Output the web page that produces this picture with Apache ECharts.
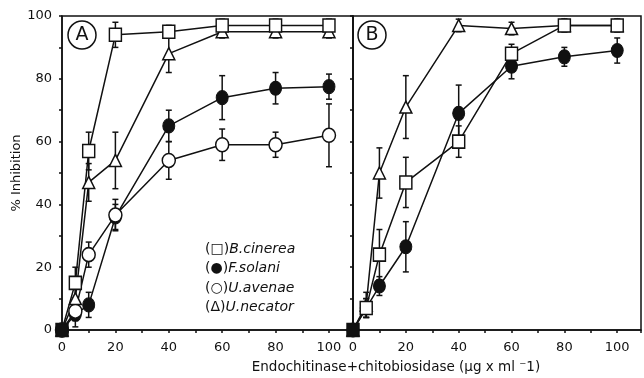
<!DOCTYPE html>
<html>
<head>
<meta charset="utf-8">
<script src="https://cdn.jsdelivr.net/npm/echarts@6/dist/echarts.min.js"></script>
<style>
  html, body { margin: 0; padding: 0; background: #fff; }
  #chart { width: 644px; height: 378px; }
</style>
</head>
<body>
<div id="chart"></div>
<script>
// doses (ug/ml)
const doses = [0, 5, 10, 20, 40, 60, 80, 100]
const xTicks = [0, 20, 40, 60, 80, 100]

// panel A
const cinereaA = [0, 15, 57, 94, 95, 97, 97, 97]
const solaniA = [0, 5, 8, 36, 65, 74, 77, 77.5]
const avenaeA = [0, 6, 24, 36.6, 54, 59, 59, 62]
const necatorA = [0, 10, 47, 54, 88, 95, 95, 95]
// +/- error
const cinereaErrA = [0, 5, 6, 4, 2, 2, 2, 2]
const solaniErrA = [0, 4, 4, 4, 5, 7, 5, 4]
const avenaeErrA = [0, 3, 4, 5, 6, 5, 4, 10]
const necatorErrA = [0, 5, 6, 9, 6, 2, 2, 2]

// panel B
const cinereaB = [0, 7, 24, 47, 60, 88, 97, 97]
const solaniB = [0, 7, 14, 26.5, 69, 84, 87, 89]
const necatorB = [0, 8, 50, 71, 97, 96, 97, 97]
const cinereaErrB = [0, 3, 8, 8, 5, 3, 2, 2]
const solaniErrB = [0, 3, 3, 8, 9, 4, 3, 4]
const necatorErrB = [0, 4, 8, 10, 2, 2, 2, 2]

const font = 'DejaVu Sans'
const ink = '#111'

// points at the origin overlap into one dark blob in the original
const pairs = (vals) => doses.map((d, i) => d === 0
  ? { value: [d, vals[i]], itemStyle: { color: ink } }
  : [d, vals[i]])
const errPairs = (vals, errs) => doses.map((d, i) => [d, vals[i], errs[i]])

const symbols = {
  cinerea: { symbol: 'rect', symbolSize: [12, 13], itemStyle: { color: '#fff', borderColor: ink, borderWidth: 1.5 } },
  solani: { symbol: 'circle', symbolSize: [12, 14], itemStyle: { color: ink, borderColor: ink, borderWidth: 1 } },
  avenae: { symbol: 'circle', symbolSize: [13, 14], itemStyle: { color: '#fff', borderColor: ink, borderWidth: 1.5 } },
  necator: { symbol: 'triangle', symbolSize: 12, itemStyle: { color: '#fff', borderColor: ink, borderWidth: 1.5 } }
}

function lineSeries(name, vals, idx, kind) {
  return Object.assign({
    name: name,
    type: 'line',
    xAxisIndex: idx,
    yAxisIndex: idx,
    data: pairs(vals),
    showAllSymbol: true,
    lineStyle: { color: ink, width: 1.5 },
    z: 3,
    animation: false
  }, symbols[kind])
}

function errSeries(vals, errs, idx) {
  return {
    type: 'custom',
    xAxisIndex: idx,
    yAxisIndex: idx,
    data: errPairs(vals, errs),
    z: 2,
    animation: false,
    renderItem: (params, api) => {
      const x = api.value(0)
      const y = api.value(1)
      const e = api.value(2)
      if (!e) return
      const hi = api.coord([x, y + e])
      const lo = api.coord([x, y - e])
      const st = { stroke: ink, lineWidth: 1.5 }
      return {
        type: 'group',
        children: [
          { type: 'line', shape: { x1: hi[0], y1: hi[1], x2: lo[0], y2: lo[1] }, style: st },
          { type: 'line', shape: { x1: hi[0] - 3, y1: hi[1], x2: hi[0] + 3, y2: hi[1] }, style: st },
          { type: 'line', shape: { x1: lo[0] - 3, y1: lo[1], x2: lo[0] + 3, y2: lo[1] }, style: st }
        ]
      }
    }
  }
}

function xAxis(idx) {
  return {
    type: 'value',
    gridIndex: idx,
    min: 0,
    max: 109,
    interval: 10,
    axisLine: { lineStyle: { color: ink, width: 1.5 } },
    axisTick: { length: 3, lineStyle: { color: ink, width: 1.5 } },
    splitLine: { show: false },
    axisLabel: {
      color: ink,
      fontFamily: font,
      fontSize: 13,
      margin: 11,
      formatter: v => xTicks.indexOf(v) >= 0 ? String(v) : ''
    }
  }
}

function yAxis(idx, labels) {
  return {
    type: 'value',
    gridIndex: idx,
    min: 0,
    max: 100,
    interval: 10,
    name: labels ? '% Inhibition' : '',
    nameLocation: 'middle',
    nameGap: 38,
    nameTextStyle: { color: ink, fontFamily: font, fontSize: 13 },
    axisLine: { lineStyle: { color: ink, width: 1.5 } },
    axisTick: { length: 3, lineStyle: { color: ink, width: 1.5 } },
    splitLine: { show: false },
    axisLabel: {
      show: labels,
      color: ink,
      fontFamily: font,
      fontSize: 13,
      margin: 10,
      formatter: v => v % 20 === 0 ? String(v) : ''
    }
  }
}

const chart = echarts.init(document.getElementById('chart'), null, { renderer: 'canvas' })

const legendRows = [
  ['□', 'B.cinerea'],
  ['●', 'F.solani'],
  ['○', 'U.avenae'],
  ['Δ', 'U.necator']
]

const graphics = legendRows.map((r, i) => ({
  type: 'text',
  left: 205,
  top: 242 + i * 19.5,
  style: {
    text: '{p|(' + r[0] + ')}{s|' + r[1] + '}',
    rich: {
      p: { fontFamily: font, fontSize: 14, fill: ink },
      s: { fontFamily: font, fontSize: 14, fontStyle: 'italic', fill: ink }
    }
  }
}))

graphics.push(
  { type: 'circle', shape: { cx: 82, cy: 35, r: 14 }, style: { fill: 'none', stroke: ink, lineWidth: 1.5 } },
  { type: 'text', x: 82, y: 35, style: { text: 'A', fontFamily: font, fontSize: 19, fill: ink, align: 'center', verticalAlign: 'middle' } },
  { type: 'circle', shape: { cx: 372, cy: 35, r: 14 }, style: { fill: 'none', stroke: ink, lineWidth: 1.5 } },
  { type: 'text', x: 372, y: 35, style: { text: 'B', fontFamily: font, fontSize: 19, fill: ink, align: 'center', verticalAlign: 'middle' } },
  { type: 'text', x: 396, y: 367, style: { text: 'Endochitinase+chitobiosidase (µg x ml ⁻1)', fontFamily: font, fontSize: 13.5, fill: ink, align: 'center', verticalAlign: 'middle' } }
)

chart.setOption({
  backgroundColor: '#fff',
  animation: false,
  grid: [
    { left: 62, top: 16, width: 291, height: 314, show: true, borderColor: ink, borderWidth: 1.5, backgroundColor: 'transparent' },
    { left: 353, top: 16, width: 290, height: 314, show: true, borderColor: ink, borderWidth: 1.5, backgroundColor: 'transparent' }
  ],
  xAxis: [xAxis(0), xAxis(1)],
  yAxis: [yAxis(0, true), yAxis(1, false)],
  graphic: graphics,
  series: [
    errSeries(cinereaA, cinereaErrA, 0),
    errSeries(solaniA, solaniErrA, 0),
    errSeries(avenaeA, avenaeErrA, 0),
    errSeries(necatorA, necatorErrA, 0),
    lineSeries('F.solani', solaniA, 0, 'solani'),
    lineSeries('U.avenae', avenaeA, 0, 'avenae'),
    lineSeries('U.necator', necatorA, 0, 'necator'),
    lineSeries('B.cinerea', cinereaA, 0, 'cinerea'),
    errSeries(cinereaB, cinereaErrB, 1),
    errSeries(solaniB, solaniErrB, 1),
    errSeries(necatorB, necatorErrB, 1),
    lineSeries('F.solani', solaniB, 1, 'solani'),
    lineSeries('U.necator', necatorB, 1, 'necator'),
    lineSeries('B.cinerea', cinereaB, 1, 'cinerea')
  ]
})
</script>
</body>
</html>
